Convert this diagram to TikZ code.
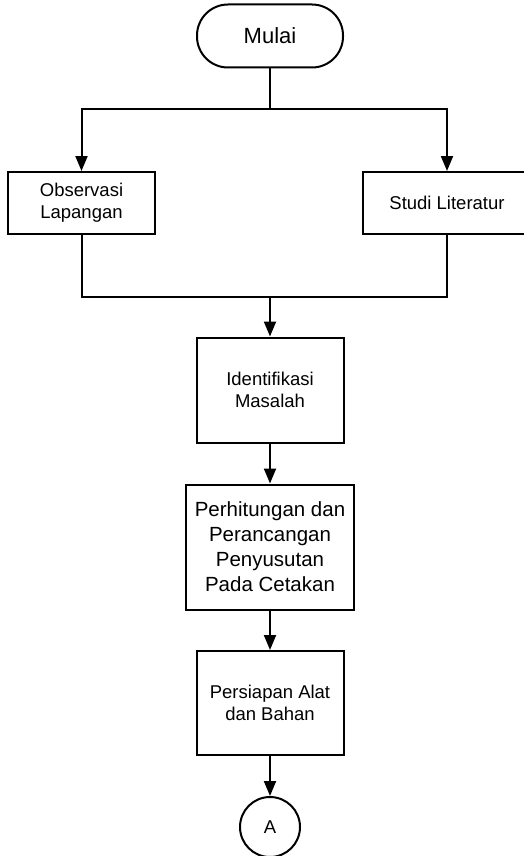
\documentclass[tikz,border=0pt]{standalone}
\usepackage{fontspec}
\setmainfont{Liberation Sans}
\usetikzlibrary{arrows.meta}
\tikzset{
  stepbox/.style={draw, line width=2pt, align=center, inner sep=0pt,
    font=\fontsize{18.5}{22}\selectfont},
  arr/.style={-{Triangle[length=15pt,width=12pt]}},
}

\begin{document}
\begin{tikzpicture}[x=1pt,y=-1pt,line width=2pt]
        \useasboundingbox (0,0) rectangle (524,856);
        % start
        \node[stepbox, rounded corners=31pt, minimum width=146pt, minimum height=63pt,
              font=\fontsize{22}{26}\selectfont] (mulai) at (270,36) {Mulai};
        % two parallel steps
        \node[stepbox, minimum width=147pt, minimum height=62pt] (obs) at (81.5,203) {Observasi\\Lapangan};
        \node[stepbox, minimum width=168pt, minimum height=62pt] (studi) at (447,203) {Studi Literatur};
        \coordinate (split) at (270,109);
        \coordinate (join) at (270,297);
        % main column
        \node[stepbox, minimum width=147pt, minimum height=105pt] (ident) at (270,390) {Identifikasi\\Masalah};
        \node[stepbox, minimum width=168pt, minimum height=125pt,
              font=\fontsize{20.5}{25}\selectfont] (hitung) at (270,547) {Perhitungan dan\\Perancangan\\Penyusutan\\Pada Cetakan};
        \node[stepbox, minimum width=147pt, minimum height=104pt] (siap) at (270,703) {Persiapan Alat\\dan Bahan};
        \node[stepbox, circle, minimum size=60pt] (conA) at (270,827) {A};
        % connectors
        \draw (mulai) -- (split);
        \draw[arr] (split) -| (obs);
        \draw[arr] (split) -| (studi);
        \draw (obs) |- (join);
        \draw (studi) |- (join);
        \draw[arr] (join) -- (ident);
        \draw[arr] (ident) -- (hitung);
        \draw[arr] (hitung) -- (siap);
        \draw[arr] (siap) -- (conA);
    \end{tikzpicture}
\end{document}
